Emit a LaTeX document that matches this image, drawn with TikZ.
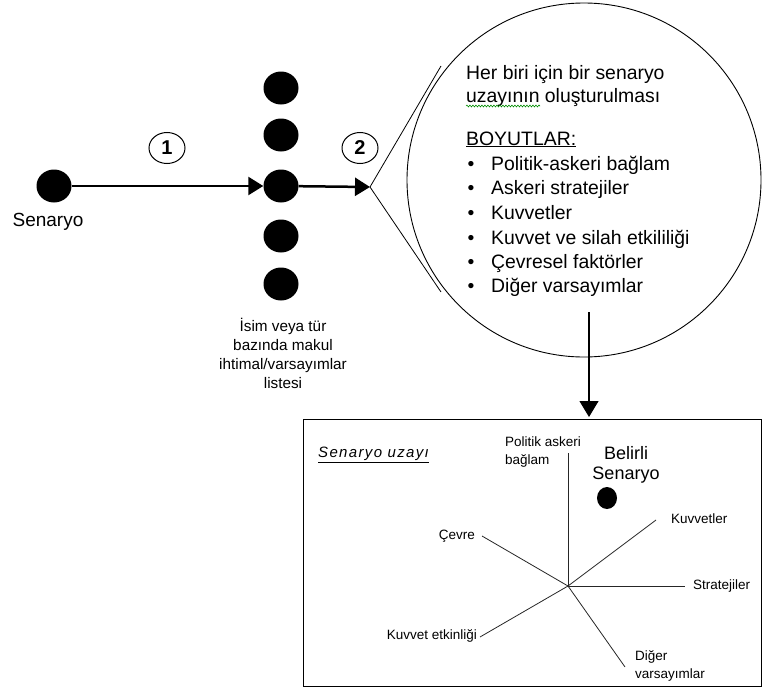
\documentclass[tikz,border=0pt]{standalone}
\usepackage{fontspec}
\setmainfont{Liberation Sans}
\usetikzlibrary{arrows.meta,shapes.geometric,decorations.pathmorphing}
\begin{document}
\begin{tikzpicture}[x=1pt,y=-1pt,
  dot/.style={ellipse,fill=black,minimum width=35pt,minimum height=33pt,inner sep=0pt},
  num/.style={ellipse,draw,line width=1pt,minimum width=36pt,minimum height=31pt,inner sep=0pt,font=\fontsize{20}{22}\selectfont\bfseries},
  bigarrow/.style={line width=2.5pt,-{Triangle[length=15pt,width=18pt]}},
  downarrow/.style={line width=1.2pt,-{Triangle[length=16pt,width=19pt]}},
  axisline/.style={line width=0.8pt,draw=black!85},
  circtext/.style={anchor=base west,inner sep=0pt,font=\fontsize{19.4}{22}\selectfont},
  bullet/.style={anchor=base,inner sep=0pt,font=\fontsize{19.4}{22}\selectfont},
  lefttext/.style={align=center,inner sep=0pt,font=\fontsize{15.3}{19}\selectfont},
  small/.style={inner sep=0pt,font=\fontsize{13.5}{18}\selectfont},
]
\useasboundingbox (0,0) rectangle (763,688);

% left part
\node[dot] (s) at (54,186) {};
\node[inner sep=0pt,font=\fontsize{19}{22}\selectfont] (slabel) at (48,222) {Senaryo};
\node[dot] (d1) at (281,88) {};
\node[dot] (d2) at (281,135) {};
\node[dot] (d3) at (281,186) {};
\node[dot] (d4) at (281,236) {};
\node[dot] (d5) at (281,284) {};
\node[num] (n1) at (167,148) {1};
\node[num] (n2) at (360,148) {2};
\coordinate (apex) at (370,187);
\coordinate (ltop) at (441,66);
\coordinate (lbot) at (441,292);
\draw[bigarrow] (s) -- (d3);
\draw[bigarrow] (d3) -- (apex);
\draw[line width=0.8pt] (ltop) -- (apex) -- (lbot);

\node[lefttext] (list) at (283,353) {İsim veya tür\\bazında makul\\ihtimal/varsayımlar\\listesi};

% big circle
\node[circle,draw,line width=0.9pt,minimum size=354pt,inner sep=0pt] (big) at (584,180) {};
\node[circtext] (t1) at (466,79) {Her biri için bir senaryo};
\node[circtext] (t2) at (466,102) {uzayının oluşturulması};
\draw[green!55!black,line width=0.6pt,decorate,decoration={snake,amplitude=0.9pt,segment length=3pt}] (466,106) -- (540,106);
\node[circtext] (t3) at (466,145) {\underline{BOYUTLAR:}};
\node[bullet] (b1) at (471,170) {•};
\node[circtext] (i1) at (491,170) {Politik-askeri bağlam};
\node[bullet] (b2) at (471,194) {•};
\node[circtext] (i2) at (491,194) {Askeri stratejiler};
\node[bullet] (b3) at (471,219) {•};
\node[circtext] (i3) at (491,219) {Kuvvetler};
\node[bullet] (b4) at (471,244) {•};
\node[circtext] (i4) at (491,244) {Kuvvet ve silah etkililiği};
\node[bullet] (b5) at (471,268) {•};
\node[circtext] (i5) at (491,268) {Çevresel faktörler};
\node[bullet] (b6) at (471,292) {•};
\node[circtext] (i6) at (491,292) {Diğer varsayımlar};

\coordinate (vstart) at (589,312);
\coordinate (vend) at (589,417);
\draw[downarrow] (vstart) -- (vend);

% box
\node[draw,line width=1.2pt,minimum width=458pt,minimum height=267pt,inner sep=0pt,anchor=north west] (box) at (303,419) {};
\node[small,anchor=west,font=\fontsize{15}{18}\selectfont\itshape\addfontfeature{LetterSpace=9}] (su) at (318,455) {\underline{Senaryo uzayı}};

\coordinate (o) at (568,586);
\coordinate (aup) at (568,453);
\coordinate (aright) at (685,586);
\coordinate (akuv) at (656,520);
\coordinate (acev) at (482,536);
\coordinate (aket) at (480,637);
\coordinate (adig) at (625,667);
\draw[axisline] (o) -- (aup);
\draw[axisline] (o) -- (aright);
\draw[axisline] (o) -- (akuv);
\draw[axisline] (o) -- (acev);
\draw[axisline] (o) -- (aket);
\draw[axisline] (o) -- (adig);

\node[small,align=left,anchor=west] (lpol) at (505,452) {Politik askeri\\bağlam};
\node[align=center,inner sep=0pt,font=\fontsize{18}{20}\selectfont] (lbel) at (626,465) {Belirli\\Senaryo};
\node[ellipse,fill=black,minimum width=20pt,minimum height=22pt,inner sep=0pt] (sdot) at (607,498) {};
\node[small,anchor=west] (lkuv) at (671,519) {Kuvvetler};
\node[small,anchor=east] (lcev) at (475,536) {Çevre};
\node[small,anchor=west] (lstr) at (693,586) {Stratejiler};
\node[small,anchor=east] (lket) at (477,636) {Kuvvet etkinliği};
\node[small,align=left,anchor=west] (ldig) at (635,666) {Diğer\\varsayımlar};
\end{tikzpicture}
\end{document}
